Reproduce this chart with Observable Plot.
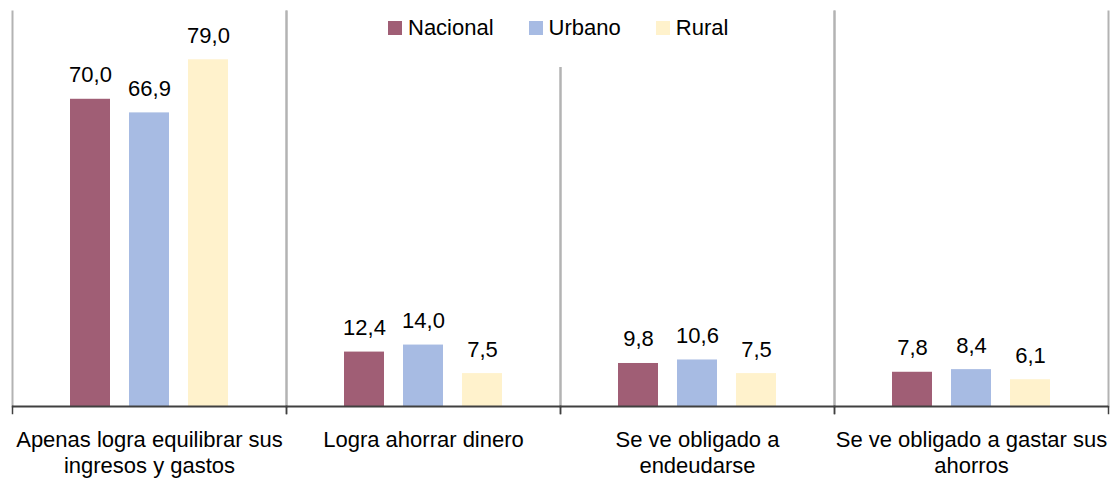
<!DOCTYPE html>
<html>
<head>
<meta charset="utf-8">
<script src="https://cdn.jsdelivr.net/npm/d3@7"></script>
<script src="https://cdn.jsdelivr.net/npm/@observablehq/plot@0.6"></script>
<style>
  body { margin: 0; background: #fff; font-family: "Liberation Sans", Arial, sans-serif; }
  #wrap { position: relative; width: 1110px; height: 480px; }
  #legend {
    position: absolute; left: 372px; top: 8px; width: 370px; height: 59px;
    box-sizing: border-box; padding: 7px 0 0 16px; background: #fff;
    display: flex; align-items: flex-start;
  }
  .item { display: flex; align-items: center; height: 26px; margin-right: 35px; font-size: 22px; color: #000; }
  .sw { width: 14px; height: 14px; margin-right: 6px; }
</style>
</head>
<body>
<div id="wrap">
  <div id="chart"></div>
  <div id="legend"></div>
</div>
<script>
const categories = [
  "Apenas logra equilibrar sus\ningresos y gastos",
  "Logra ahorrar dinero",
  "Se ve obligado a\nendeudarse",
  "Se ve obligado a gastar sus\nahorros"
];
const series = ["Nacional", "Urbano", "Rural"];
const nacional = [70.0, 12.4, 9.8, 7.8];
const urbano = [66.9, 14.0, 10.6, 8.4];
const rural = [79.0, 7.5, 7.5, 6.1];
const colors = ["#a05e75", "#a7bbe3", "#fff2cc"];

const valuesBySeries = [nacional, urbano, rural];
const data = [];
categories.forEach((c, i) => {
  series.forEach((s, j) => data.push({cat: c, series: s, value: valuesBySeries[j][i]}));
});
const fmt = v => d3.format(".1f")(v).replace(".", ",");

const font = "'Liberation Sans', Arial, sans-serif";
const chart = Plot.plot({
  width: 1110,
  height: 480,
  marginLeft: 12,
  marginRight: 2,
  marginTop: 11,
  marginBottom: 74,
  style: { fontFamily: font, fontSize: "22px", color: "#000", background: "#fff", overflow: "visible" },
  fx: { domain: categories, padding: 0, label: null },
  x: { domain: series, paddingInner: 0.3167, paddingOuter: 0.942, axis: null },
  y: { domain: [0, 90], axis: null },
  color: { domain: series, range: colors },
  marks: [
    Plot.frame({ anchor: "left", stroke: "#b3b3b3", strokeWidth: 2 }),
    Plot.frame({ anchor: "right", stroke: "#b3b3b3", strokeWidth: 2 }),
    Plot.barY(data, { fx: "cat", x: "series", y: "value", fill: "series" }),
    Plot.ruleY([0], { stroke: "#404040", strokeWidth: 2 }),
    Plot.frame({ anchor: "left", stroke: "#404040", strokeWidth: 1.5, insetTop: 395, insetBottom: -7 }),
    Plot.frame({ anchor: "right", stroke: "#404040", strokeWidth: 1.5, insetTop: 395, insetBottom: -7 }),
    Plot.text(data, { fx: "cat", x: "series", y: "value", text: d => fmt(d.value), lineAnchor: "bottom", dy: -17, fontSize: 22, fill: "#000" }),
    Plot.axisFx({ anchor: "bottom", tickSize: 0, tickPadding: 22, label: null, lineHeight: 1.18, fontSize: 22, fill: "#000" })
  ]
});
document.getElementById("chart").appendChild(chart);

const legend = document.getElementById("legend");
series.forEach((s, i) => {
  const item = document.createElement("div");
  item.className = "item";
  const sw = document.createElement("span");
  sw.className = "sw";
  sw.style.background = colors[i];
  const t = document.createElement("span");
  t.textContent = s;
  item.appendChild(sw);
  item.appendChild(t);
  legend.appendChild(item);
});
</script>
</body>
</html>
